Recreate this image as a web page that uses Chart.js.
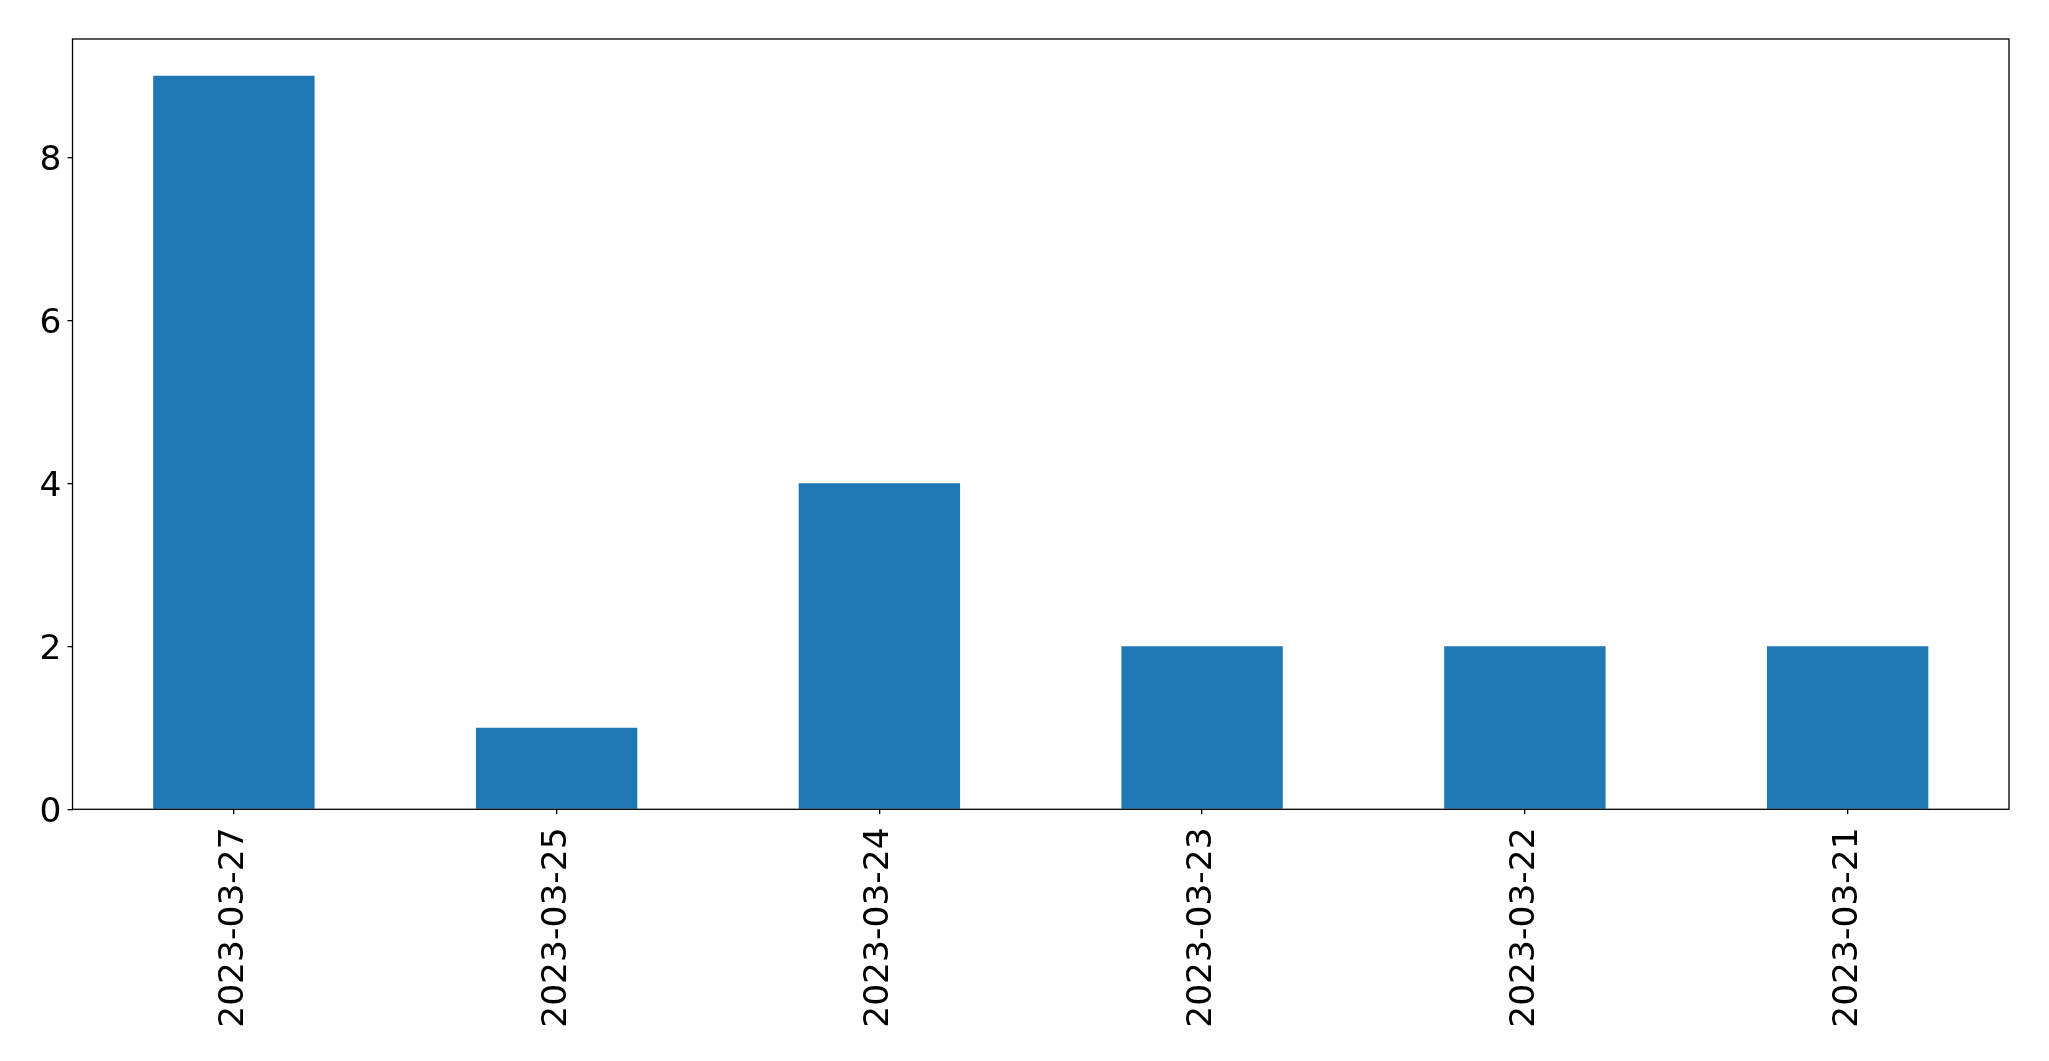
<!DOCTYPE html>
<html lang="en">

<head>
    <meta charset="UTF-8">
    <title>Bar chart</title>
    <script src="https://cdn.jsdelivr.net/npm/chart.js"></script>
    <style>
        body { margin: 0; background: #fff; }
        #chart { display: block; }
    </style>
</head>

<body>
    <canvas id="chart" width="2049" height="1061"></canvas>

    <script>
        // dados do gráfico
        const datas = ["2023-03-27", "2023-03-25", "2023-03-24", "2023-03-23", "2023-03-22", "2023-03-21"];
        const contagens = [9, 1, 4, 2, 2, 2];
        const ticksY = [0, 2, 4, 6, 8];

        // moldura do gráfico (estilo matplotlib)
        const moldura = {
            id: 'moldura',
            afterDraw(chart) {
                const { ctx, chartArea } = chart;
                ctx.save();
                ctx.strokeStyle = '#000';
                ctx.lineWidth = 1.3;
                ctx.strokeRect(chartArea.left, chartArea.top, chartArea.right - chartArea.left, chartArea.bottom - chartArea.top);
                ctx.restore();
            }
        };

        const fonte = { family: 'DejaVu Sans', size: 34.5 };

        new Chart(document.getElementById('chart'), {
            type: 'bar',
            data: {
                labels: datas,
                datasets: [{
                    data: contagens,
                    backgroundColor: '#1f77b4',
                    barPercentage: 0.5,
                    categoryPercentage: 1.0
                }]
            },
            options: {
                responsive: false,
                animation: false,
                layout: { padding: { top: 39, right: 40, left: 0, bottom: 0 } },
                plugins: { legend: { display: false }, tooltip: { enabled: false } },
                scales: {
                    x: {
                        grid: { offset: false, drawOnChartArea: false, drawTicks: true, tickLength: 5, color: '#000', lineWidth: 1.3 },
                        border: { display: false },
                        ticks: { font: fonte, color: '#000', maxRotation: 90, minRotation: 90, padding: 13 },
                        afterFit(scale) { scale.height = 251.7; }
                    },
                    y: {
                        min: 0,
                        max: 9.45,
                        afterBuildTicks(scale) { scale.ticks = ticksY.map(v => ({ value: v })); },
                        grid: { drawOnChartArea: false, drawTicks: true, tickLength: 5, color: '#000', lineWidth: 1.3 },
                        border: { display: false },
                        ticks: { font: fonte, color: '#000', padding: 6, labelOffset: 4 },
                        afterFit(scale) { scale.width = 72.5; }
                    }
                }
            },
            plugins: [moldura]
        });
    </script>
</body>

</html>
